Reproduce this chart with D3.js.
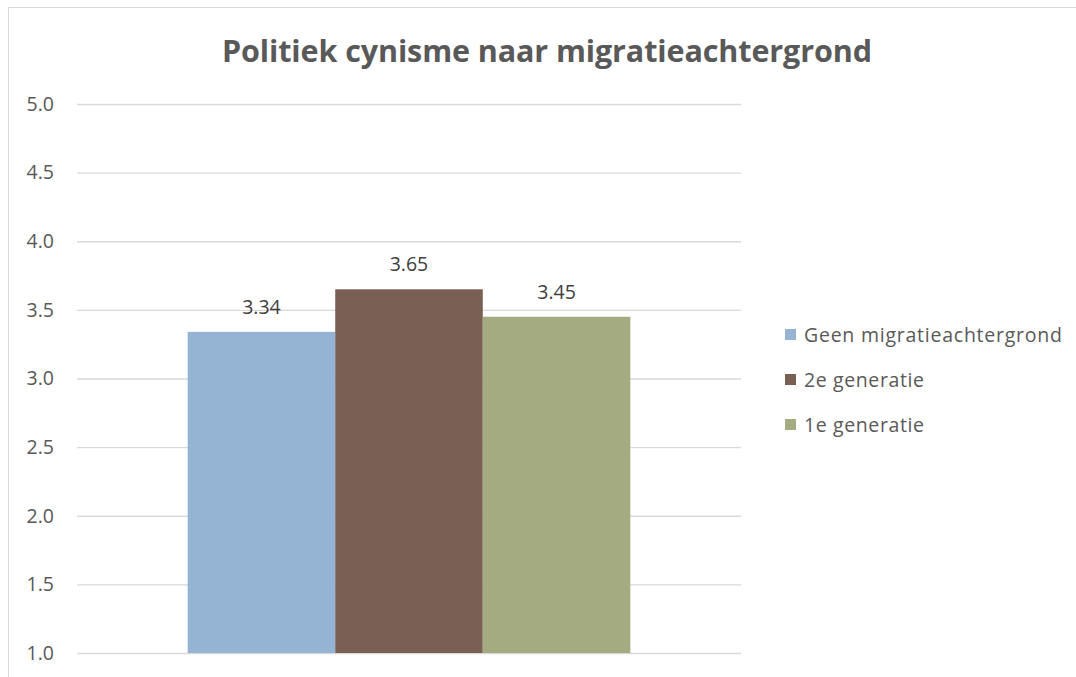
<!DOCTYPE html>
<html><head><meta charset="utf-8">
<script src="https://cdn.jsdelivr.net/npm/d3@7"></script>
<style>body{margin:0;background:#fff}svg{display:block}text{font-family:"Open Sans",Lato,sans-serif}</style>
</head><body>
<svg id="c" width="1076" height="677"></svg>
<script>
const title = "Politiek cynisme naar  migratieachtergrond";
const categories = [""];
const seriesNames = ["Geen migratieachtergrond", "2e generatie", "1e generatie"];
const seriesValues = [3.34, 3.65, 3.45];
const seriesColors = ["#95b3d3", "#7a5f55", "#a4ab80"];
const yTicks = [1.0, 1.5, 2.0, 2.5, 3.0, 3.5, 4.0, 4.5, 5.0];

const svg = d3.select("#c");
const W = 1076, H = 677;
svg.append("rect").attr("x", 8.5).attr("y", 7.5).attr("width", W + 10).attr("height", H + 10)
  .attr("fill", "#fff").attr("stroke", "#d9d9d9").attr("stroke-width", 1);

const m = {left: 77, right: 741, top: 104, bottom: 653};
const y = d3.scaleLinear().domain([1, 5]).range([m.bottom, m.top]);
const x0 = d3.scaleBand().domain(categories).range([m.left, m.right]).paddingOuter(0.25).paddingInner(0);
const x1 = d3.scaleBand().domain(seriesNames).range([0, x0.bandwidth()]).padding(0);

svg.append("text").attr("x", 547).attr("y", 62).attr("text-anchor", "middle")
  .attr("font-size", 30.5).attr("font-weight", "bold").attr("fill", "#595959")
  .attr("textLength", 650).attr("lengthAdjust", "spacing").text(title);

const yAxis = d3.axisLeft(y).tickValues(yTicks).tickFormat(d3.format(".1f")).tickSize(-(m.right - m.left)).tickPadding(23);
const ga = svg.append("g").attr("transform", `translate(${m.left},0)`).call(yAxis);
ga.select(".domain").remove();
ga.selectAll(".tick line").attr("stroke", "#d9d9d9").attr("stroke-width", 1.3);
ga.selectAll(".tick text").attr("font-size", 19.5).attr("fill", "#595959").attr("font-family", "'Open Sans', Lato, sans-serif");

const data = seriesNames.map((s, i) => ({s, v: seriesValues[i], c: seriesColors[i]}));
const g = svg.append("g").attr("transform", `translate(${x0(categories[0])},0)`);
g.selectAll("rect").data(data).join("rect")
  .attr("x", d => x1(d.s)).attr("width", x1.bandwidth())
  .attr("y", d => y(d.v)).attr("height", d => y(1) - y(d.v)).attr("fill", d => d.c);
g.selectAll("text.lbl").data(data).join("text").attr("class", "lbl")
  .attr("x", d => x1(d.s) + x1.bandwidth() / 2).attr("y", d => y(d.v) - 18)
  .attr("text-anchor", "middle").attr("font-size", 19.5).attr("fill", "#404040")
  .text(d => d3.format(".2f")(d.v));

const legendWidths = [258, 120, 120];
const lg = svg.append("g").attr("transform", "translate(785,335)");
const li = lg.selectAll("g").data(data).join("g").attr("transform", (d, i) => `translate(0,${i * 45})`);
li.append("rect").attr("x", 0).attr("y", -6).attr("width", 11).attr("height", 11).attr("fill", d => d.c);
li.append("text").attr("x", 19).attr("y", 7).attr("font-size", 19.5).attr("fill", "#595959")
  .attr("textLength", (d, i) => legendWidths[i]).attr("lengthAdjust", "spacing").text(d => d.s);
</script>
</body></html>
